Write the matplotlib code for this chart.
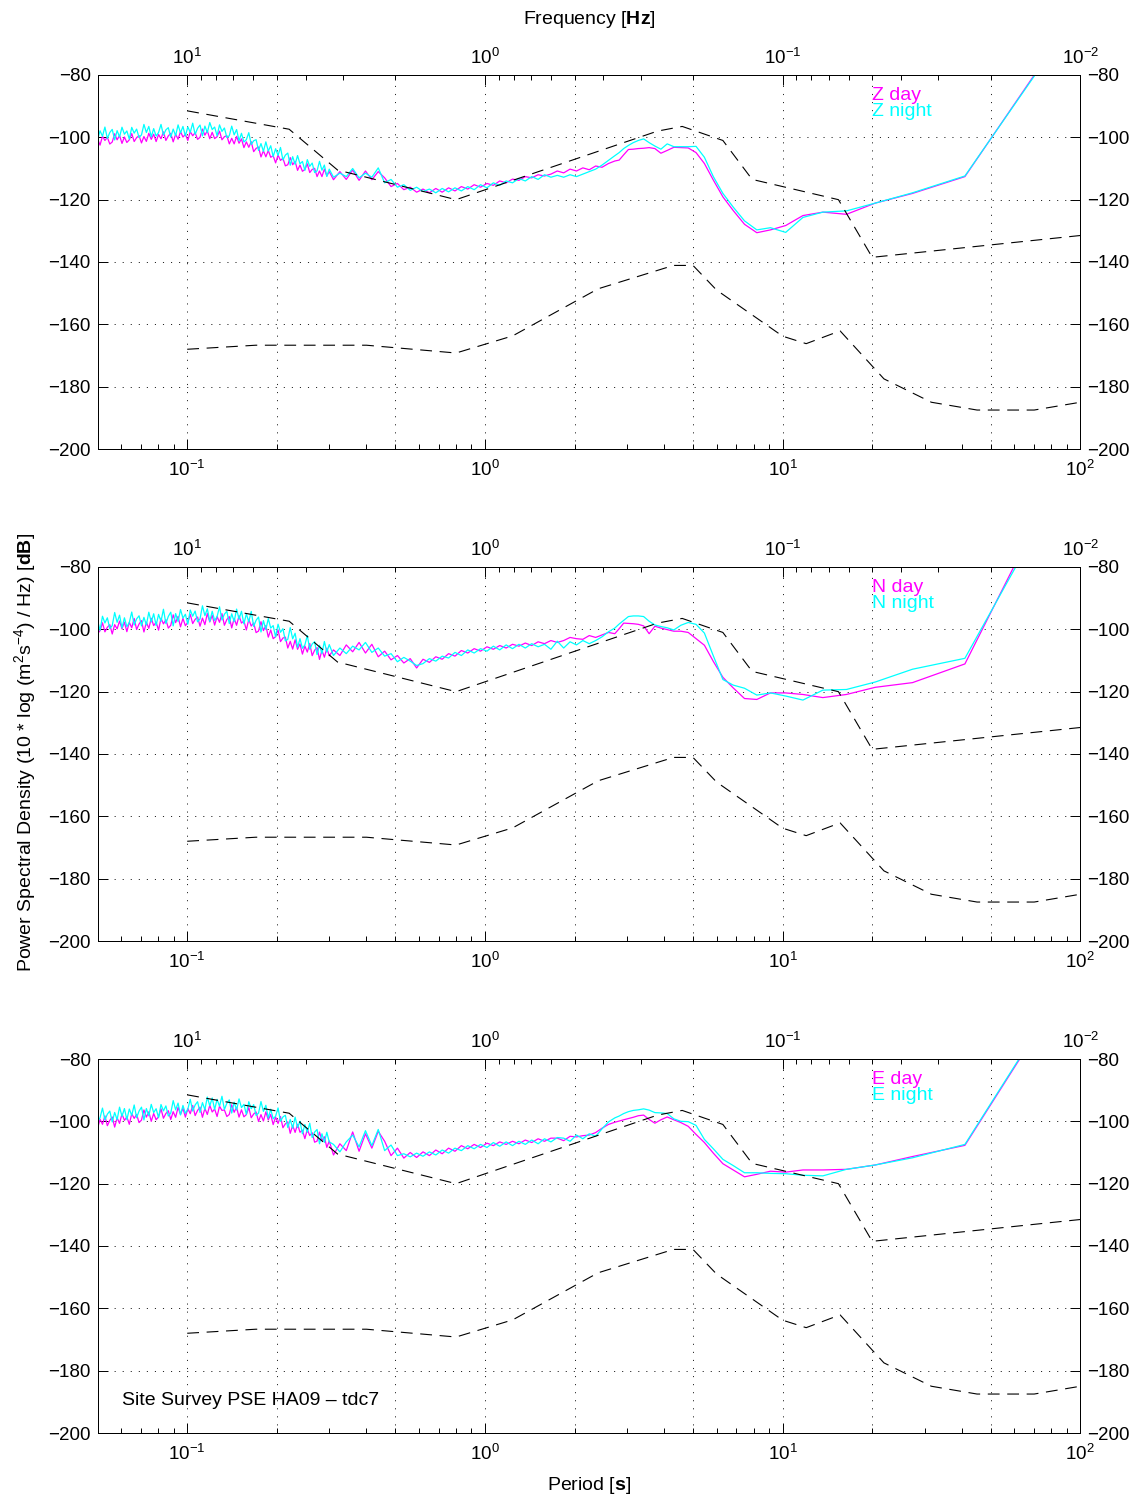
import numpy as np
import matplotlib
matplotlib.use("Agg")
import matplotlib.pyplot as plt
from matplotlib.ticker import FixedLocator, NullFormatter, LogLocator, LogFormatterSciNotation

plt.rcParams.update({
    "font.family": ["Liberation Sans", "DejaVu Sans"],
    "font.size": 13.5,
    "mathtext.fontset": "custom",
    "mathtext.rm": "Liberation Sans",
    "mathtext.it": "Liberation Sans:italic",
    "mathtext.bf": "Liberation Sans:bold",
    "lines.scale_dashes": False,
    "axes.linewidth": 0.7,
})

# ---------------- data ----------------
FS_HZ = 50.0
NFFT = 4096
long_bins = np.arange(1, 31)                      # FFT bins 1..30
period_long = NFFT / FS_HZ / long_bins            # 81.92 s ... 2.73 s
period_mid = np.geomspace(2.6, 0.31, 44)
period_hf = np.geomspace(0.30, 0.05, 96)
period = np.concatenate([period_long, period_mid, period_hf])

# New high / low noise models (breakpoints, dB)
nhnm_period = [0.10, 0.22, 0.32, 0.80, 3.80, 4.60, 6.30, 7.90, 15.40, 20.00, 100.0]
nhnm_db = [-91.5, -97.4, -110.5, -120.0, -98.0, -96.5, -101.0, -113.5, -120.0, -138.5, -131.5]
nlnm_period = [0.10, 0.17, 0.40, 0.80, 1.24, 2.40, 4.30, 5.00, 6.00, 10.00, 12.00,
               15.60, 21.90, 31.60, 45.00, 70.00, 100.0]
nlnm_db = [-168.0, -166.7, -166.7, -169.2, -163.7, -148.6, -141.1, -141.1, -149.0, -163.8,
           -166.2, -162.1, -177.5, -185.0, -187.5, -187.5, -185.0]

# ---- Z component ----
z_day_long = [-70.5, -112.6, -118.0, -121.1, -124.7, -124.0, -125.1, -128.3, -129.7, -130.6,
              -127.9, -123.5, -119.1, -113.7, -108.4, -104.9, -103.4, -103.3, -103.2, -104.2,
              -105.1, -103.6, -103.3, -103.5, -103.6, -103.8, -103.9, -105.6, -107.3, -107.6]
z_day_mid = [-108.4, -109.6, -109.2, -110.4, -109.8, -110.8, -110.2, -111.4, -110.8, -111.8,
             -112.4, -112.0, -113.0, -112.6, -113.8, -113.4, -114.6, -114.0, -115.4, -114.8,
             -116.0, -115.2, -116.6, -115.8, -117.2, -116.2, -117.6, -116.4, -117.8, -116.6,
             -117.6, -116.0, -116.8, -114.8, -115.8, -113.0, -111.0, -113.6, -110.8, -113.8,
             -110.5, -113.5, -111.0, -113.6]
z_day_hf = [-111.0, -112.4, -110.2, -112.6, -110.8, -112.6, -109.95, -110.3, -111.3, -108.5, -110.3, -110.9,
            -108.9, -110.6, -107.7, -108.8, -106.5, -108.8, -109.15, -106.7, -107.4, -105.7, -108.2, -105.9,
            -106.4, -104.2, -106.25, -104.3, -106.3, -103.1, -103.55, -104.6, -101.4, -103.2, -101.45, -103.3,
            -100.5, -101.9, -99.7, -102.1, -100.3, -102.1, -99.45, -99.8, -100.8, -98.0, -99.8, -100.4,
            -98.4, -100.45, -97.9, -99.3, -97.35, -100.0, -100.65, -98.5, -99.5, -98.15, -101.0, -99.05,
            -99.9, -98.15, -100.6, -99.0, -101.45, -98.7, -99.55, -101.0, -98.25, -100.45, -99.1, -101.35,
            -99.0, -100.65, -98.7, -101.3, -99.75, -101.8, -99.45, -100.1, -101.35, -98.8, -100.8, -101.65,
            -99.9, -101.95, -99.4, -100.8, -98.85, -101.5, -102.15, -100.0, -101.0, -99.65, -102.5, -100.55]
z_night_long = [-71.0, -112.4, -117.8, -121.1, -123.6, -124.0, -125.7, -130.5, -129.0, -129.7,
                -126.8, -122.4, -118.0, -112.6, -106.4, -102.9, -103.0, -103.0, -103.0, -102.1,
                -103.8, -102.8, -101.7, -100.5, -101.0, -101.7, -102.6, -103.6, -104.9, -105.9]
z_night_mid = [-107.4, -108.9, -110.2, -111.0, -111.8, -112.6, -112.0, -112.8, -112.2, -112.8,
               -112.0, -113.5, -112.6, -114.0, -113.2, -114.6, -114.0, -115.4, -114.6, -116.2,
               -115.2, -116.8, -115.8, -117.2, -116.2, -117.5, -116.4, -117.8, -116.6, -117.4,
               -116.0, -117.0, -115.2, -116.0, -113.5, -114.6, -109.8, -112.8, -111.5, -113.0,
               -110.0, -112.6, -111.5, -112.8]
z_night_hf = [-110.2, -112.55, -108.9, -110.55, -107.7, -110.75, -111.3, -108.25, -109.3, -107.15, -110.6, -107.75,
              -108.5, -105.85, -108.65, -106.2, -108.95, -105.05, -105.7, -107.25, -103.25, -105.8, -103.65, -106.15,
              -102.7, -104.4, -101.45, -104.5, -102.0, -104.2, -100.75, -101.1, -102.3, -98.5, -100.75, -101.5,
              -98.7, -101.1, -97.5, -99.2, -96.4, -99.5, -100.05, -97.0, -98.1, -96.0, -99.5, -96.7,
              -97.5, -95.25, -98.45, -96.4, -99.55, -96.05, -97.1, -99.05, -95.45, -98.4, -96.65, -99.55,
              -96.5, -98.6, -96.0, -99.45, -97.35, -99.95, -96.9, -97.6, -99.25, -95.85, -98.45, -99.6,
              -97.2, -99.85, -96.5, -98.45, -95.85, -99.2, -100.05, -97.35, -98.65, -96.8, -100.55, -97.95,
              -99.0, -96.75, -99.9, -97.85, -100.85, -97.45, -98.45, -100.35, -96.7, -99.65, -97.9, -100.75]

# ---- N component ----
n_day_long = [-54.0, -111.1, -117.1, -118.6, -120.9, -121.9, -120.9, -120.4, -120.4, -122.5,
              -122.2, -118.8, -115.4, -110.3, -105.1, -103.0, -101.0, -100.6, -100.6, -100.1,
              -99.6, -99.0, -101.4, -98.9, -98.4, -98.2, -98.1, -98.0, -99.8, -101.4]
n_day_mid = [-101.0, -101.8, -102.6, -102.0, -103.2, -103.0, -102.6, -103.6, -104.2, -103.6,
             -104.6, -104.0, -105.2, -104.4, -105.4, -104.8, -106.0, -105.2, -106.4, -105.6,
             -107.0, -106.2, -107.6, -106.8, -108.6, -107.8, -109.6, -108.8, -110.6, -109.6,
             -112.4, -109.4, -110.8, -108.4, -109.8, -107.0, -108.8, -104.8, -107.6, -104.2,
             -107.2, -105.0, -108.4, -106.6]
n_day_hf = [-108.5, -106.05, -108.95, -106.7, -109.65, -105.85, -106.7, -108.45, -104.55, -107.3, -105.35, -107.95,
            -104.7, -106.4, -103.35, -106.35, -103.85, -106.0, -102.5, -102.8, -103.95, -100.15, -102.35, -103.0,
            -100.2, -102.5, -98.8, -100.4, -97.55, -100.55, -101.05, -97.95, -98.95, -96.8, -100.2, -97.3,
            -98.0, -95.65, -98.7, -96.5, -99.55, -95.9, -96.85, -98.7, -94.95, -97.75, -95.9, -98.65,
            -95.5, -97.65, -94.9, -98.5, -96.4, -99.0, -96.05, -96.8, -98.15, -95.2, -97.7, -98.85,
            -96.5, -99.2, -95.85, -97.85, -95.35, -98.7, -99.6, -96.9, -98.25, -96.45, -100.25, -97.7,
            -98.8, -96.45, -99.7, -97.7, -100.85, -97.2, -98.3, -100.05, -96.5, -99.5, -97.75, -100.75,
            -97.7, -99.85, -97.35, -99.85, -98.5, -101.5, -98.5, -99.35, -100.8, -97.9, -100.45, -101.35]
n_night_long = [-57.6, -109.3, -112.8, -116.9, -119.3, -119.5, -122.7, -121.4, -120.4, -121.1,
                -118.9, -117.9, -116.1, -108.5, -101.2, -98.4, -97.8, -98.7, -100.2, -99.5,
                -99.1, -98.6, -97.4, -95.9, -95.7, -95.7, -95.9, -97.1, -98.3, -99.6]
n_night_mid = [-100.8, -102.4, -103.6, -104.6, -103.6, -105.0, -104.0, -106.0, -103.8, -106.4,
               -104.8, -105.6, -104.6, -106.0, -104.8, -106.2, -105.0, -106.6, -105.4, -107.0,
               -106.2, -107.6, -106.6, -108.4, -107.4, -109.2, -108.6, -110.2, -109.4, -111.0,
               -111.6, -110.2, -109.0, -110.4, -107.8, -108.6, -106.0, -107.4, -104.2, -106.6,
               -105.4, -107.8, -106.0, -108.4]
n_night_hf = [-104.9, -107.3, -103.9, -107.8, -105.1, -108.1, -103.95, -104.7, -106.4, -102.0, -105.0, -106.1,
              -103.0, -105.8, -101.25, -103.05, -99.45, -103.2, -103.7, -99.8, -100.95, -98.35, -102.45, -98.8,
              -99.6, -96.55, -100.05, -97.2, -100.85, -96.05, -97.1, -99.05, -94.25, -97.6, -95.05, -98.25,
              -94.2, -96.75, -93.5, -97.55, -95.0, -98.15, -94.2, -95.15, -97.0, -92.75, -95.9, -97.15,
              -94.2, -97.45, -93.4, -95.6, -92.45, -96.65, -97.6, -94.15, -95.8, -93.8, -98.35, -95.15,
              -96.4, -93.65, -97.5, -94.95, -98.9, -94.5, -95.85, -98.15, -93.55, -97.45, -95.2, -98.75,
              -95.0, -97.65, -94.5, -98.6, -96.15, -98.9, -95.65, -96.65, -98.6, -94.45, -97.8, -99.15,
              -96.3, -99.55, -95.45, -97.75, -94.6, -98.8, -99.75, -96.3, -97.95, -95.8, -100.3, -97.15]

# ---- E component ----
e_day_long = [-62.4, -107.7, -111.3, -114.0, -115.4, -115.6, -115.6, -116.3, -116.0, -117.0,
              -117.8, -115.6, -113.6, -110.2, -106.8, -104.2, -101.6, -100.4, -99.5, -98.6,
              -99.5, -100.6, -99.4, -98.0, -98.2, -98.7, -99.1, -99.5, -99.9, -100.3]
e_day_mid = [-101.0, -102.2, -103.6, -104.4, -104.6, -105.0, -104.8, -106.2, -105.4, -105.4,
             -106.4, -105.6, -106.8, -106.0, -107.2, -106.4, -107.4, -106.6, -107.8, -107.0,
             -108.4, -107.4, -108.8, -107.8, -109.6, -108.6, -110.4, -109.2, -111.0, -109.8,
             -111.6, -110.0, -111.8, -108.6, -111.0, -106.4, -103.2, -108.6, -104.0, -109.6,
             -103.4, -109.4, -107.2, -110.8]
e_day_hf = [-106.3, -108.35, -104.95, -106.2, -103.45, -106.35, -106.7, -103.65, -104.55, -102.6, -105.55, -102.85,
            -103.5, -100.95, -103.55, -101.3, -103.85, -100.15, -100.8, -102.05, -98.45, -100.7, -98.65, -101.05,
            -97.8, -99.55, -96.95, -99.9, -97.85, -100.05, -97.0, -97.65, -98.85, -95.6, -97.85, -98.55,
            -96.3, -98.65, -95.5, -97.1, -94.7, -97.8, -98.45, -96.35, -96.5, -95.15, -98.45, -96.05,
            -97.0, -94.85, -97.8, -95.85, -98.7, -95.45, -96.5, -98.15, -94.9, -97.55, -95.9, -98.65,
            -95.8, -97.8, -95.5, -98.7, -96.9, -99.4, -96.6, -97.5, -99.0, -96.0, -98.5, -99.5,
            -97.5, -100.0, -96.95, -98.65, -96.35, -99.6, -100.4, -97.8, -99.05, -97.55, -100.95, -98.6,
            -99.7, -97.6, -100.65, -98.85, -101.85, -98.6, -99.7, -101.4, -98.25, -100.95, -99.35, -102.2]
e_night_long = [-62.0, -107.4, -111.7, -114.0, -115.4, -117.5, -117.3, -116.8, -116.7, -116.5,
                -116.5, -114.2, -112.2, -108.8, -105.8, -101.3, -100.1, -100.0, -99.2, -97.5,
                -97.3, -97.2, -96.4, -96.0, -96.3, -96.5, -96.9, -97.5, -98.3, -98.9]
e_night_mid = [-100.2, -102.4, -104.8, -104.0, -105.6, -104.4, -106.4, -105.4, -105.2, -106.6,
               -105.6, -107.2, -106.0, -107.4, -106.4, -107.8, -106.6, -108.0, -106.8, -108.4,
               -107.4, -108.8, -107.8, -109.4, -108.6, -110.2, -109.2, -110.8, -109.8, -111.2,
               -110.2, -111.4, -110.4, -111.0, -107.6, -109.4, -102.6, -107.8, -103.0, -108.2,
               -104.4, -106.6, -109.8, -107.4]
e_night_hf = [-106.6, -103.5, -106.75, -104.0, -107.2, -102.6, -103.45, -105.2, -100.6, -103.5, -101.05, -104.0,
              -100.0, -102.0, -98.65, -102.2, -99.4, -102.0, -98.05, -98.6, -100.0, -95.7, -98.35, -99.2,
              -96.1, -98.95, -94.85, -96.8, -93.65, -97.35, -98.1, -94.65, -95.95, -93.7, -97.75, -94.55,
              -95.6, -92.8, -96.35, -93.85, -97.35, -93.1, -94.2, -96.2, -91.95, -95.15, -92.95, -96.2,
              -92.5, -95.05, -92.2, -96.25, -94.0, -97.15, -93.7, -94.75, -96.7, -92.95, -96.1, -97.45,
              -94.9, -97.95, -94.15, -96.3, -93.35, -97.35, -98.3, -95.05, -96.65, -94.6, -98.85, -95.95,
              -97.2, -94.55, -98.25, -95.9, -99.55, -95.45, -96.7, -98.85, -94.75, -98.1, -96.05, -99.45,
              -95.9, -98.4, -95.45, -99.45, -97.15, -100.2, -96.7, -97.7, -99.55, -95.75, -98.85, -100.1]

components = ["Z", "N", "E"]
day_series = [z_day_long + z_day_mid + z_day_hf,
              n_day_long + n_day_mid + n_day_hf,
              e_day_long + e_day_mid + e_day_hf]
night_series = [z_night_long + z_night_mid + z_night_hf,
                n_night_long + n_night_mid + n_night_hf,
                e_night_long + e_night_mid + e_night_hf]

y_ticks = list(range(-200, -79, 20))
top_freq_major = [10.0, 1.0, 0.1, 0.01]
top_freq_labels = [r"$10^{1}$", r"$10^{0}$", r"$10^{-1}$", r"$10^{-2}$"]
grid_periods = [0.1, 0.2, 0.5, 1, 2, 5, 10, 20, 50]

# ---------------- figure ----------------
W, H = 1146, 1499
fig = plt.figure(figsize=(W / 100, H / 100), dpi=100)
left = 97.6 / W
width = 982.7 / W
height = 374 / H
bottoms_px = [449, 941, 1433]

MAG = "#ff00ff"
CYA = "#00ffff"
DOT = (0, (0.8, 5.0))
DASH = (0, (8.5, 5.5))

axes = []
for idx, comp in enumerate(components):
    ax = fig.add_axes([left, 1 - bottoms_px[idx] / H, width, height])
    axes.append(ax)
    ax.set_xscale("log")
    ax.set_xlim(0.05, 100)
    ax.set_ylim(-200, -80)

    # grid
    for gp in grid_periods:
        ax.axvline(gp, color="k", lw=0.6, ls=DOT, zorder=0.5)
    ax.set_yticks(y_ticks)
    ax.yaxis.grid(True, color="k", lw=0.6, ls=DOT, zorder=0.5)

    ax.plot(period, day_series[idx], color=MAG, lw=0.9, zorder=2)
    ax.plot(period, night_series[idx], color=CYA, lw=0.9, zorder=3)
    ax.plot(nhnm_period, nhnm_db, color="k", lw=0.8, ls=DASH, zorder=4)
    ax.plot(nlnm_period, nlnm_db, color="k", lw=0.8, ls=DASH, zorder=4)

    ax.xaxis.set_major_locator(LogLocator(base=10, numticks=10))
    ax.xaxis.set_major_formatter(LogFormatterSciNotation())
    ax.xaxis.set_minor_locator(LogLocator(base=10, subs=np.arange(2, 10), numticks=20))
    ax.xaxis.set_minor_formatter(NullFormatter())
    ax.tick_params(axis="x", which="both", direction="in", top=False, bottom=True, pad=8)
    ax.tick_params(axis="y", which="both", direction="in", left=True, right=True,
                   labelleft=True, labelright=True, pad=5)
    ax.tick_params(which="major", length=7, width=0.7)
    ax.tick_params(which="minor", length=3.5, width=0.7)

    # top frequency axis
    axt = ax.twiny()
    axt.set_xscale("log")
    axt.set_xlim(ax.get_xlim())
    axt.xaxis.set_major_locator(FixedLocator([1.0 / f for f in top_freq_major]))
    axt.set_xticklabels(top_freq_labels)
    minor_f = [m * 10.0 ** e for e in (-2, -1, 0, 1) for m in range(2, 10)]
    minor_p = [1.0 / f for f in minor_f if 0.05 <= 1.0 / f <= 100]
    axt.xaxis.set_minor_locator(FixedLocator(minor_p))
    axt.xaxis.set_minor_formatter(NullFormatter())
    axt.tick_params(axis="x", which="both", direction="in", pad=5)
    axt.tick_params(which="major", length=7, width=0.7)
    axt.tick_params(which="minor", length=3.5, width=0.7)

    ax.text(0.788, 0.945, f"{comp} day", color=MAG, transform=ax.transAxes,
            ha="left", va="center", fontsize=14)
    ax.text(0.788, 0.903, f"{comp} night", color=CYA, transform=ax.transAxes,
            ha="left", va="center", fontsize=14)

axes[2].text(0.025, 0.086, "Site Survey PSE HA09 \u2013 tdc7", transform=axes[2].transAxes,
             ha="left", va="center", fontsize=14)

fig.text((97.6 + 982.7 / 2) / W, 1 - 20 / H, r"Frequency [$\mathbf{Hz}$]",
         ha="center", va="center", fontsize=14)
fig.text((97.6 + 982.7 / 2) / W, 1 - 1486 / H, r"Period [$\mathbf{s}$]",
         ha="center", va="center", fontsize=14)
fig.text(25 / W, 1 - 752 / H,
         r"Power Spectral Density (10 * log (m$^{2}$s$^{-4}$) / Hz) [$\mathbf{dB}$]",
         rotation=90, ha="center", va="center", fontsize=14)

fig.savefig("out.png", dpi=100)
